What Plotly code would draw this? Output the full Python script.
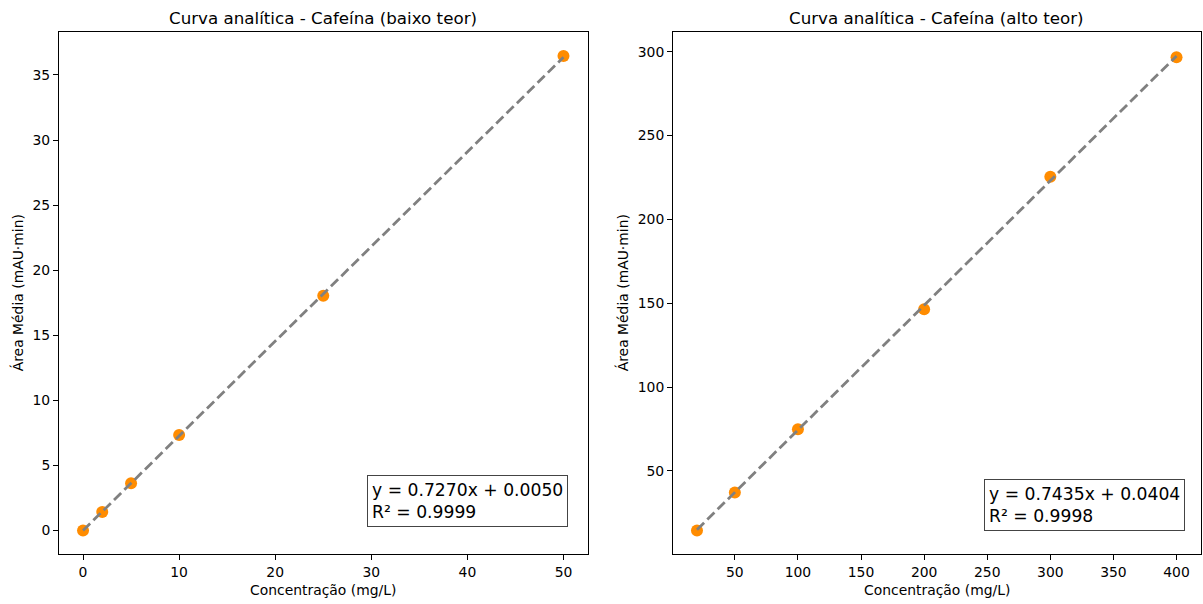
import plotly.graph_objects as go

# ---- data ----
conc_low = [0, 2, 5, 10, 25, 50]
area_low = [0.0, 1.43, 3.63, 7.34, 18.03, 36.45]
slope_low, intercept_low, r2_low = 0.7270, 0.0050, 0.9999

conc_high = [20, 50, 100, 200, 300, 400]
area_high = [14.4, 37.1, 74.9, 146.4, 225.5, 296.7]
slope_high, intercept_high, r2_high = 0.7435, 0.0404, 0.9998

title_low = "Curva analítica - Cafeína (baixo teor)"
title_high = "Curva analítica - Cafeína (alto teor)"
xlabel = "Concentração (mg/L)"
ylabel = "Área Média (mAU·min)"

ticks_low_x = [0, 10, 20, 30, 40, 50]
ticks_low_y = [0, 5, 10, 15, 20, 25, 30, 35]
ticks_high_x = [50, 100, 150, 200, 250, 300, 350, 400]
ticks_high_y = [50, 100, 150, 200, 250, 300]

W, H = 1203, 604
FONT = "DejaVu Sans"
ORANGE = "#ff8c00"


def fit_line(xs, m, b):
    x0, x1 = min(xs), max(xs)
    return [x0, x1], [m * x0 + b, m * x1 + b]


def auto_range(vals, margin=0.05):
    lo, hi = min(vals), max(vals)
    d = (hi - lo) * margin
    return [lo - d, hi + d]


fig = go.Figure()

panels = [
    (conc_low, area_low, slope_low, intercept_low, r2_low, "x", "y"),
    (conc_high, area_high, slope_high, intercept_high, r2_high, "x2", "y2"),
]
ranges = []
for cx, ay, m, b, r2, xa, ya in panels:
    lx, ly = fit_line(cx, m, b)
    fig.add_trace(go.Scatter(x=cx, y=ay, mode="markers", xaxis=xa, yaxis=ya,
                             marker=dict(color=ORANGE, size=12, line=dict(width=0)),
                             showlegend=False))
    fig.add_trace(go.Scatter(x=lx, y=ly, mode="lines", xaxis=xa, yaxis=ya,
                             line=dict(color="#808080", width=2.8, dash="10px,4.5px"),
                             showlegend=False))
    ranges.append((auto_range(list(cx) + lx), auto_range(list(ay) + ly)))

dom_y = [(H - 554.3) / H, (H - 32.3) / H]
dom_x1 = [59 / W, 587.5 / W]
dom_x2 = [673 / W, 1200.5 / W]

axis_common = dict(showline=True, mirror=True, linecolor="black", linewidth=1,
                   ticks="outside", ticklen=5, tickwidth=1.1, tickcolor="black",
                   showgrid=False, zeroline=False,
                   tickfont=dict(family=FONT, size=13.9, color="black"))

fig.update_layout(
    width=W, height=H,
    margin=dict(l=0, r=0, t=0, b=0),
    paper_bgcolor="white", plot_bgcolor="white",
    xaxis=dict(domain=dom_x1, range=ranges[0][0], tickvals=ticks_low_x, anchor="y", **axis_common),
    yaxis=dict(domain=dom_y, range=ranges[0][1], tickvals=ticks_low_y, anchor="x", **axis_common),
    xaxis2=dict(domain=dom_x2, range=ranges[1][0], tickvals=ticks_high_x, anchor="y2", **axis_common),
    yaxis2=dict(domain=dom_y, range=ranges[1][1], tickvals=ticks_high_y, anchor="x2", **axis_common),
)

ann = []
for dom, title in [(dom_x1, title_low), (dom_x2, title_high)]:
    cx = (dom[0] + dom[1]) / 2
    ann.append(dict(text=title, x=cx, y=(H - 18) / H, xref="paper", yref="paper",
                    xanchor="center", yanchor="middle", showarrow=False,
                    font=dict(family=FONT, size=16.7, color="black")))
    ann.append(dict(text=xlabel, x=cx, y=(H - 590) / H, xref="paper", yref="paper",
                    xanchor="center", yanchor="middle", showarrow=False,
                    font=dict(family=FONT, size=13.9, color="black")))

ymid = (dom_y[0] + dom_y[1]) / 2
for xpx in (17, 622):
    ann.append(dict(text=ylabel, x=xpx / W, y=ymid, xref="paper", yref="paper",
                    xanchor="center", yanchor="middle", textangle=-90, showarrow=False,
                    font=dict(family=FONT, size=13.9, color="black")))

boxes = [
    (slope_low, intercept_low, r2_low, 567.5, 526.7),
    (slope_high, intercept_high, r2_high, 1184.5, 530.7),
]
for m, b, r2, rx, by in boxes:
    ann.append(dict(text=f"y = {m:.4f}x + {b:.4f}<br>R² = {r2:.4f}",
                    x=rx / W, y=(H - by) / H, xref="paper", yref="paper",
                    xanchor="right", yanchor="bottom", align="left", showarrow=False,
                    bgcolor="white", bordercolor="#444444", borderwidth=1, borderpad=4,
                    font=dict(family=FONT, size=17.2, color="black")))

fig.update_layout(annotations=ann)
fig.write_html("out.html", config={"displayModeBar": False},
               post_script="document.body.style.margin='0';document.body.style.overflow='hidden';")
